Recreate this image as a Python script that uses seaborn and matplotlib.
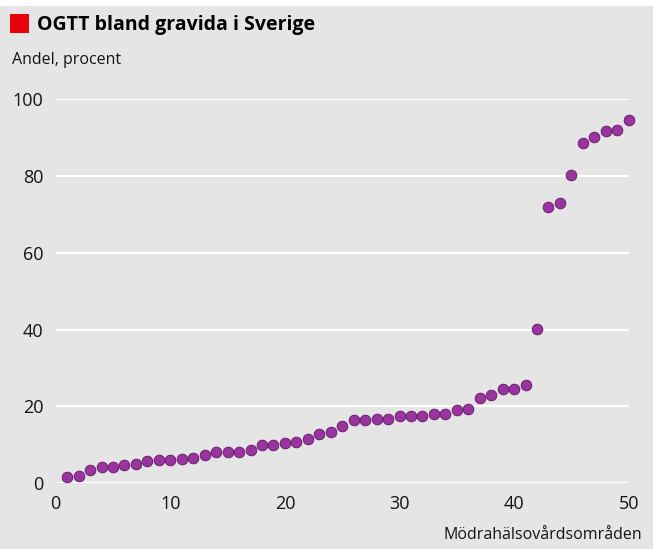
import numpy as np
import pandas as pd
import seaborn as sns
from matplotlib import pyplot as plt
from matplotlib.patches import Rectangle

# Mödrahälsovårdsområden, sorted by share
omrade = list(range(1, 51))
andel = [1.6, 1.8, 3.5, 4.2, 4.3, 4.8, 5.0, 5.7, 6.0, 6.0,
         6.2, 6.6, 7.3, 8.1, 8.2, 8.1, 8.7, 9.9, 9.9, 10.4,
         10.8, 11.5, 12.8, 13.4, 14.9, 16.5, 16.5, 16.6, 16.6, 17.4,
         17.4, 17.6, 18.0, 18.1, 19.0, 19.2, 22.2, 22.9, 24.5, 24.5,
         25.5, 40.2, 72.0, 73.0, 80.3, 88.5, 90.1, 91.7, 91.9, 94.5]
yticks = [0, 20, 40, 60, 80, 100]
xticks = [0, 10, 20, 30, 40, 50]

BG = "#e5e5e5"
INK = "#141414"

sns.set_style("white")
plt.rcParams["font.family"] = ["Open Sans", "DejaVu Sans"]
plt.rcParams["text.color"] = INK
plt.rcParams["xtick.color"] = INK
plt.rcParams["ytick.color"] = INK

df = pd.DataFrame({"omrade": omrade, "andel": andel})

fig = plt.figure(figsize=(6.53, 5.49), dpi=100, facecolor=BG)
fig.patches.append(Rectangle((0, 549 - 6), 653, 6, transform=None,
                             facecolor="white", edgecolor="none", zorder=0))
ax = fig.add_axes([0.0853, 0.1197, 0.8775, 0.70])
ax.set_facecolor(BG)

for y in yticks:
    ax.axhline(y, color="white", lw=1.6, zorder=1)

sns.scatterplot(df, x="omrade", y="andel", ax=ax, s=58, color="#9a35a0",
                edgecolor="#6a1b6e", linewidth=0.7, zorder=3, clip_on=False)

ax.set_xlim(0, 50)
ax.set_ylim(0, 100)
ax.set_xticks(xticks)
ax.set_xticks([5, 15, 25, 35, 45], minor=True)
ax.set_yticks(yticks)
for s in ax.spines.values():
    s.set_visible(False)
ax.tick_params(axis="x", which="major", length=6.5, width=1.5, color="black",
               labelsize=13, pad=2)
ax.tick_params(axis="x", which="minor", length=3.5, width=1.5, color="black")
ax.tick_params(axis="y", length=0, labelsize=13, pad=9)
ax.set_xlabel("")
ax.set_ylabel("")

fig.patches.append(Rectangle((10, 549 - 33), 19, 19, transform=None,
                             facecolor="#e8000b", edgecolor="none"))
fig.text(37 / 653, 1 - 25 / 549, "OGTT bland gravida i Sverige",
         fontsize=14, fontweight="bold", va="center", ha="left", color="black")
fig.text(12 / 653, 1 - 60 / 549, "Andel, procent", fontsize=11.5,
         va="center", ha="left")
fig.text(642 / 653, 1 - 535 / 549, "Mödrahälsovårdsområden", fontsize=11.5,
         va="center", ha="right")

fig.savefig("out.png", dpi=100, facecolor=BG)
